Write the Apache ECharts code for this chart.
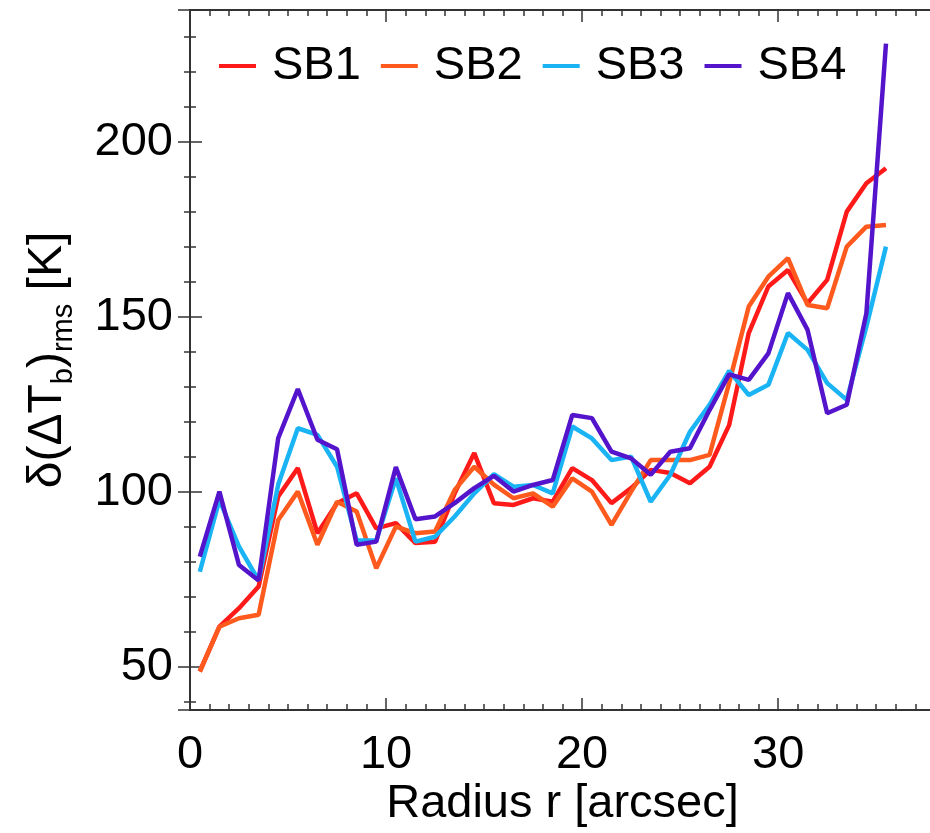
<!DOCTYPE html>
<html>
<head>
<meta charset="utf-8">
<script src="https://cdn.jsdelivr.net/npm/echarts@6/dist/echarts.min.js"></script>
<style>
  html, body { margin: 0; padding: 0; background: #ffffff; }
  #chart { width: 930px; height: 833px; }
</style>
</head>
<body>
<div id="chart"></div>
<script>
const radius = [0.5, 1.5, 2.5, 3.5, 4.5, 5.5, 6.5, 7.5, 8.5, 9.5, 10.5, 11.5, 12.5, 13.5, 14.5, 15.5, 16.5, 17.5,
  18.5, 19.5, 20.5, 21.5, 22.5, 23.5, 24.5, 25.5, 26.5, 27.5, 28.5, 29.5, 30.5, 31.5, 32.5, 33.5, 34.5, 35.5];
const seriesNames = ['SB1', 'SB2', 'SB3', 'SB4'];
const sb1 = [48.6, 61.4, 66.7, 72.9, 98.6, 106.7, 88.1, 96.7, 99.5, 89.5, 91, 85.3, 85.7, 99.5, 111, 96.7, 96.2, 98.1,
  97.1, 106.7, 103.3, 96.7, 101, 106.2, 105.3, 102.4, 107.1, 119, 145.3, 158.6, 163.3, 153.8, 160.5, 180, 188.1, 192.4];
const sb2 = [48.6, 61.4, 63.8, 64.8, 91.9, 100, 84.8, 97.1, 94.3, 78.1, 90, 88.1, 88.6, 100.5, 107.1, 102, 98.1, 99.5,
  95.7, 103.8, 100, 90.5, 100, 109, 109, 109, 110.5, 131, 152.9, 161.4, 166.7, 153.3, 152.4, 170, 175.7, 176.2];
const sb3 = [77.1, 97.6, 84.3, 74.6, 102, 118.1, 116.2, 107.1, 86, 86, 103.8, 85.7, 87.1, 92.9, 99.5, 105, 101.4, 101.9,
  99.5, 118.6, 115.2, 109, 110, 97.1, 104.8, 117.1, 124.8, 134.5, 127.6, 130.5, 145.3, 140.5, 131, 126.2, 147.1, 170];
const sb4 = [81.4, 100, 79, 74.6, 115.3, 129.3, 114.8, 112.1, 84.8, 85.7, 107, 92.1, 92.9, 96.7, 101, 104.5, 100, 101.9,
  103.3, 121.9, 121, 111.4, 109.5, 104.8, 111.4, 112.4, 123.3, 133.5, 131.9, 139.5, 156.7, 146.2, 122.4, 124.8, 151, 228];
const seriesValues = [sb1, sb2, sb3, sb4];
const colors = ['#ff1a1a', '#ff5a1e', '#1ab4f5', '#5414cc'];
const xTickLabels = ['0', '10', '20', '30'];
const yTickLabels = ['50', '100', '150', '200'];

const FONT = '"Liberation Sans", Arial, Helvetica, sans-serif';
const chart = echarts.init(document.getElementById('chart'), null, { renderer: 'canvas' });

const tickStyle = { color: '#333', width: 1.5 };
const xAxisBase = {
  type: 'value', min: 0, max: 38, interval: 10,
  splitLine: { show: false },
  axisTick: { show: true, inside: true, length: 12, lineStyle: tickStyle },
  minorTick: { show: true, splitNumber: 10, length: 6, lineStyle: tickStyle },
};
const yAxisBase = {
  type: 'value', min: 37.6, max: 237.6, minInterval: 50, maxInterval: 50, splitNumber: 4,
  splitLine: { show: false },
  axisTick: { show: true, inside: true, length: 12, lineStyle: tickStyle },
  minorTick: { show: true, splitNumber: 5, length: 6, lineStyle: tickStyle },
};

const option = {
  animation: false,
  backgroundColor: '#ffffff',
  grid: { left: 190, width: 745, top: 10, height: 700, containLabel: false, outerBoundsMode: 'none' },
  legend: {
    left: 219, top: 38, padding: 0,
    itemGap: 20, itemWidth: 37, itemHeight: 4, icon: 'rect',
    data: seriesNames,
    textStyle: { fontFamily: FONT, fontSize: 47, color: '#000', lineHeight: 56, padding: [0, 0, 0, 11] }
  },
  xAxis: [
    Object.assign({}, xAxisBase, {
      position: 'bottom',
      name: 'Radius r [arcsec]', nameLocation: 'middle', nameGap: 66, nameMoveOverlap: false,
      nameTextStyle: { fontFamily: FONT, fontSize: 47, color: '#000', lineHeight: 56 },
      axisLine: { show: true, lineStyle: { color: '#333', width: 2 } },
      axisLabel: {
        show: true, margin: 17, fontFamily: FONT, fontSize: 47, color: '#000', lineHeight: 56,
        formatter: v => (xTickLabels.indexOf(String(v)) >= 0 ? String(v) : '')
      }
    }),
    Object.assign({}, xAxisBase, {
      position: 'top',
      axisLine: { show: true, lineStyle: { color: '#333', width: 2 } },
      axisLabel: { show: false }
    })
  ],
  yAxis: [
    Object.assign({}, yAxisBase, {
      position: 'left',
      name: '{a|δ(ΔT}{s|b}{a|)}{s|rms}{a| [K]}',
      nameLocation: 'middle', nameRotate: 90, nameGap: 112, nameMoveOverlap: false,
      nameTextStyle: {
        fontFamily: FONT, color: '#000',
        rich: {
          a: { fontFamily: FONT, fontSize: 48, lineHeight: 60, color: '#000' },
          s: { fontFamily: FONT, fontSize: 29, lineHeight: 28, verticalAlign: 'bottom', color: '#000' }
        }
      },
      axisLine: { show: true, lineStyle: { color: '#c8c8c8', width: 2 } },
      axisLabel: {
        show: true, margin: 17, fontFamily: FONT, fontSize: 47, color: '#000',
        formatter: v => (yTickLabels.indexOf(String(v)) >= 0 ? String(v) : '')
      }
    }),
    Object.assign({}, yAxisBase, {
      position: 'right',
      axisLine: { show: true, lineStyle: { color: '#333', width: 2 } },
      axisLabel: { show: false }
    })
  ],
  series: seriesNames.map((name, i) => ({
    name: name,
    type: 'line',
    xAxisIndex: 0, yAxisIndex: 0,
    symbol: 'none',
    color: colors[i],
    lineStyle: { width: 4.5, color: colors[i] },
    data: radius.map((r, j) => [r, seriesValues[i][j]])
  }))
};
chart.setOption(option);
</script>
</body>
</html>
